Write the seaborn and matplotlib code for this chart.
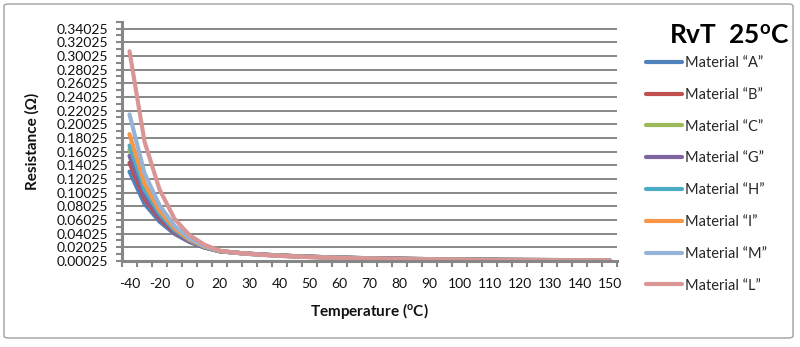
import numpy as np
import pandas as pd
import matplotlib
matplotlib.use("Agg")
import matplotlib.pyplot as plt
import seaborn as sns
from matplotlib.patches import FancyBboxPatch
from matplotlib.ticker import FixedLocator

# ---------------- data ----------------
temps = [-40, -30, -20, -10, 0, 10, 20, 25, 30, 35, 40, 45, 50, 55, 60, 65, 70,
         75, 80, 85, 90, 95, 100, 105, 110, 115, 120, 125, 130, 135, 140, 145, 150]
tick_labels = ["-40", "-20", "0", "20", "30", "40", "50", "60", "70", "80", "90",
               "100", "110", "120", "130", "140", "150"]
materials = ["Material \u201cA\u201d", "Material \u201cB\u201d", "Material \u201cC\u201d",
             "Material \u201cG\u201d", "Material \u201cH\u201d", "Material \u201cI\u201d",
             "Material \u201cM\u201d", "Material \u201cL\u201d"]

mat_A = [0.1310, 0.0840, 0.0580, 0.0400, 0.0280, 0.0198, 0.0145, 0.0125, 0.0109, 0.0095,
         0.0084, 0.0074, 0.0066, 0.0059, 0.0053, 0.0048, 0.0043, 0.0039, 0.0036, 0.0033,
         0.0030, 0.0028, 0.0026, 0.0024, 0.0022, 0.0020, 0.0019, 0.0018, 0.0017, 0.0016,
         0.0015, 0.0014, 0.0013]
mat_B = [0.1439, 0.0911, 0.0619, 0.0420, 0.0290, 0.0202, 0.0146, 0.0125, 0.0109, 0.0095,
         0.0084, 0.0074, 0.0066, 0.0059, 0.0053, 0.0048, 0.0043, 0.0039, 0.0036, 0.0033,
         0.0030, 0.0028, 0.0026, 0.0024, 0.0022, 0.0020, 0.0019, 0.0018, 0.0017, 0.0016,
         0.0015, 0.0014, 0.0013]
mat_C = [0.1635, 0.1017, 0.0677, 0.0448, 0.0303, 0.0208, 0.0148, 0.0125, 0.0108, 0.0094,
         0.0083, 0.0073, 0.0065, 0.0058, 0.0052, 0.0047, 0.0042, 0.0038, 0.0035, 0.0032,
         0.0029, 0.0027, 0.0025, 0.0023, 0.0021, 0.0019, 0.0018, 0.0017, 0.0016, 0.0015,
         0.0014, 0.0013, 0.0012]
mat_G = [0.1541, 0.0965, 0.0649, 0.0435, 0.0297, 0.0205, 0.0147, 0.0125, 0.0108, 0.0094,
         0.0083, 0.0073, 0.0065, 0.0058, 0.0052, 0.0047, 0.0042, 0.0038, 0.0035, 0.0032,
         0.0029, 0.0027, 0.0025, 0.0023, 0.0021, 0.0019, 0.0018, 0.0017, 0.0016, 0.0015,
         0.0014, 0.0013, 0.0012]
mat_H = [0.1692, 0.1047, 0.0693, 0.0456, 0.0307, 0.0210, 0.0148, 0.0125, 0.0107, 0.0093,
         0.0081, 0.0071, 0.0063, 0.0056, 0.0050, 0.0045, 0.0040, 0.0036, 0.0033, 0.0030,
         0.0027, 0.0025, 0.0023, 0.0021, 0.0019, 0.0017, 0.0016, 0.0015, 0.0014, 0.0013,
         0.0012, 0.0011, 0.0011]
mat_I = [0.1858, 0.1135, 0.0740, 0.0479, 0.0317, 0.0214, 0.0149, 0.0125, 0.0107, 0.0092,
         0.0080, 0.0070, 0.0062, 0.0055, 0.0049, 0.0044, 0.0039, 0.0035, 0.0032, 0.0029,
         0.0026, 0.0024, 0.0022, 0.0020, 0.0018, 0.0017, 0.0015, 0.0014, 0.0013, 0.0012,
         0.0011, 0.0010, 0.0010]
mat_M = [0.2147, 0.1286, 0.0818, 0.0516, 0.0334, 0.0221, 0.0151, 0.0125, 0.0106, 0.0091,
         0.0079, 0.0069, 0.0061, 0.0054, 0.0048, 0.0043, 0.0038, 0.0034, 0.0031, 0.0028,
         0.0025, 0.0023, 0.0021, 0.0019, 0.0018, 0.0016, 0.0015, 0.0014, 0.0013, 0.0012,
         0.0011, 0.0010, 0.0009]
mat_L = [0.3070, 0.1750, 0.1050, 0.0620, 0.0380, 0.0240, 0.0155, 0.0125, 0.0105, 0.0090,
         0.0078, 0.0068, 0.0060, 0.0053, 0.0047, 0.0042, 0.0037, 0.0033, 0.0030, 0.0027,
         0.0024, 0.0022, 0.0020, 0.0018, 0.0017, 0.0015, 0.0014, 0.0013, 0.0012, 0.0011,
         0.0010, 0.0009, 0.0009]

series = [mat_A, mat_B, mat_C, mat_G, mat_H, mat_I, mat_M, mat_L]
colors = ["#4F81BD", "#C0504D", "#9BBB59", "#8064A2", "#4BACC6", "#F79646",
          "#95B3D7", "#D99694"]

rows = []
for name, vals in zip(materials, series):
    for i, (t, v) in enumerate(zip(temps, vals)):
        rows.append({"pos": i, "Temperature": t, "R": v, "Material": name})
df = pd.DataFrame(rows)

# ---------------- style ----------------
sns.set_theme(style="white")
plt.rcParams["font.family"] = ["Lato", "DejaVu Sans"]
plt.rcParams["mathtext.fontset"] = "custom"
plt.rcParams["mathtext.rm"] = "Lato"
plt.rcParams["mathtext.bf"] = "Lato:bold"
plt.rcParams["mathtext.it"] = "Lato:italic"

W, H = 800, 347
fig = plt.figure(figsize=(W / 100, H / 100), dpi=100)
fig.patch.set_facecolor("white")

ax_l, ax_r, ax_t, ax_b = 122, 617, 21.7, 261
ax = fig.add_axes([ax_l / W, 1 - ax_b / H, (ax_r - ax_l) / W, (ax_b - ax_t) / H])

sns.lineplot(data=df, x="pos", y="R", hue="Material", hue_order=materials,
             palette=colors, linewidth=3.0, estimator=None, sort=False, ax=ax,
             solid_capstyle="round", solid_joinstyle="round")

gray = "#878787"
ax.set_xlim(-0.5, 32.5)
ax.set_ylim(0.00025, 0.35025)
ax.set_xticks(range(0, 33, 2))
ax.set_xticklabels(tick_labels)
ax.xaxis.set_minor_locator(FixedLocator(np.arange(-0.5, 33, 1)))
yt = np.round(np.arange(0.00025, 0.3403, 0.02), 5)
ax.set_yticks(yt)
ax.set_yticklabels([f"{v:.5f}" for v in yt])
ax.yaxis.set_minor_locator(FixedLocator(np.round(np.arange(0.01025, 0.3503, 0.02), 5)))

ax.tick_params(axis="x", which="major", length=0, pad=12, labelsize=10, labelcolor="#111111")
ax.tick_params(axis="x", which="minor", length=4, width=1.5, color=gray, direction="out", bottom=True)
ax.tick_params(axis="y", which="major", length=4, width=1.5, color=gray, direction="out",
               pad=6, labelsize=10, labelcolor="#111111", left=True)
ax.tick_params(axis="y", which="minor", length=4, width=1.5, color=gray, direction="out", left=True)

ax.grid(axis="y", which="major", color=gray, linewidth=1.4)
ax.grid(axis="x", visible=False)
ax.set_axisbelow(True)
for s in ["top", "right"]:
    ax.spines[s].set_visible(False)
for s in ["left", "bottom"]:
    ax.spines[s].set_color(gray)
    ax.spines[s].set_linewidth(2.2)

ax.set_xlabel(r"Temperature ($^{\mathbf{o}}$C)", fontsize=11, fontweight="bold",
              color="#111111", labelpad=8)
ax.set_ylabel("Resistance (\u03a9)", fontsize=11, fontweight="bold", color="#111111",
              labelpad=12)

handles, labels = ax.get_legend_handles_labels()
ax.legend(handles, labels, loc="upper left", bbox_to_anchor=(646 / W, 1 - 56 / H),
          bbox_transform=fig.transFigure, frameon=False, fontsize=10.5,
          handlelength=2.5, handletextpad=0.15, labelspacing=1.22, borderpad=0,
          borderaxespad=0)

fig.text(729 / W, 1 - 36 / H, r"RvT  25$^{\mathbf{o}}$C", ha="center", va="center",
         fontsize=19, fontweight="bold", color="black")

border = FancyBboxPatch((4 / W, 1 - 338 / H), 789 / W, 334 / H,
                        boxstyle="round,pad=0,rounding_size=0.006",
                        transform=fig.transFigure, fill=False,
                        edgecolor="#a0a0a0", linewidth=1.0)
fig.patches.append(border)

fig.savefig("out.png", dpi=100, facecolor="white")
